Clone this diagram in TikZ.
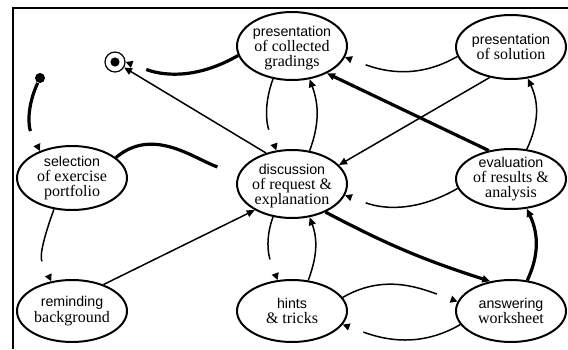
\documentclass[tikz,border=0pt]{standalone}
\usepackage{fontspec}
\setmainfont{Liberation Serif}
\setsansfont{Liberation Sans}
\newfontfamily\serifnm{Liberation Serif}
\newfontfamily\sansnm{Liberation Sans}
\usetikzlibrary{shapes.geometric,arrows.meta,decorations.markings}

\newcommand{\sttxt}[2]{{\sansnm\fontsize{7.1}{7.6}\selectfont #1}\\#2}

\begin{document}
\begin{tikzpicture}[x=0.5pt,y=0.5pt]
% Diagram style
\tikzset{
    stbox/.style={ellipse, draw, line width=1pt, minimum width=55pt, minimum height=32pt, inner sep=0pt},
    name text/.style={align=center, font=\serifnm\fontsize{8}{7.6}\selectfont, inner sep=0pt},
    thin line/.style={line width=0.75pt},
    thick line/.style={line width=1.6pt},
    arr/.style={-{Triangle[length=4pt,width=3.5pt]}},
    gap tip/.style={shorten >=11pt, postaction={decorate},
        decoration={markings, mark=at position 1 with {\arrow{Triangle[length=3.5pt,width=3.5pt]}}}}
}
\useasboundingbox (0,0) rectangle (568,349);

% Frame
\draw[line width=1pt] (13,0) -- (13,341) -- (568,341);

% States
\node[stbox, minimum height=34pt, label={[name text, yshift=-1pt]center:{\sttxt{presentation}{of collected\\gradings}}}] (COLL) at (292,303) {};
\node[stbox, label={[name text]center:{\sttxt{presentation}{of solution}}}] (SOL) at (511,302) {};
\node[stbox, label={[name text]center:{\sttxt{selection}{of exercise\\portfolio}}}] (SEL) at (72,171) {};
\node[stbox, minimum height=34pt, label={[name text, yshift=-1pt]center:{\sttxt{discussion}{of request \&\\explanation}}}] (DISC) at (292,165) {};
\node[stbox, minimum height=30pt, label={[name text]center:{\sttxt{evaluation}{of results \&\\analysis}}}] (EVAL) at (511,170) {};
\node[stbox, minimum height=31pt, label={[name text]center:{\sttxt{reminding}{background}}}] (REM) at (72,38) {};
\node[stbox, minimum height=31pt, label={[name text]center:{\sttxt{hints}{\& tricks}}}] (HINT) at (292,38) {};
\node[stbox, minimum height=31pt, label={[name text]center:{\sttxt{answering}{worksheet}}}] (ANSW) at (511,38) {};

% Start and end
\node[circle, fill, inner sep=0pt, minimum size=5pt] (INIT) at (40,271) {};
\node[circle, draw, line width=0.6pt, inner sep=0pt, minimum size=10pt] (FIN) at (115,287) {};
\fill (FIN.center) circle (2.3pt);

% Transitions
\draw[thick line, gap tip] (INIT) to[out=245, in=115] (SEL.140);
\draw[thick line, gap tip] (SEL.25) to[out=40, in=160] (DISC.170);
\draw[thin line, gap tip] (SEL.240) to[out=250, in=115] (REM.125);
\draw[thin line, arr] (REM.40) -- (DISC.215);

\draw[thin line, gap tip] (COLL.240) to[out=250, in=110] (DISC.115);
\draw[thin line, arr] (DISC.62) to[out=70, in=-70] (COLL.-62);
\draw[thin line, arr] (DISC.130) -- (FIN);
\draw[thick line, gap tip] (COLL.190) to[out=210, in=-20] (FIN.east);

\draw[thin line, gap tip] (SOL.190) to[out=210, in=-20] (COLL.-12);
\draw[thin line, arr] (SOL.235) -- (DISC.22);
\draw[thick line, arr] (EVAL.128) -- (COLL.-38);
\draw[thin line, arr] (EVAL.62) to[out=65, in=-65] (SOL.-62);
\draw[thin line, gap tip] (EVAL.190) to[out=210, in=-20] (DISC.-12);

\draw[thick line, arr] (DISC.-40) to[bend right=5] (ANSW.125);
\draw[thick line, arr] (ANSW.62) to[out=65, in=-65] (EVAL.-62);
\draw[thin line, gap tip] (DISC.240) to[out=250, in=110] (HINT.115);
\draw[thin line, arr] (HINT.62) to[out=70, in=-70] (DISC.-62);
\draw[thin line, gap tip] (HINT.15) to[out=30, in=160] (ANSW.170);
\draw[thin line, gap tip] (ANSW.195) to[out=210, in=-20] (HINT.-15);

\end{tikzpicture}
\end{document}
